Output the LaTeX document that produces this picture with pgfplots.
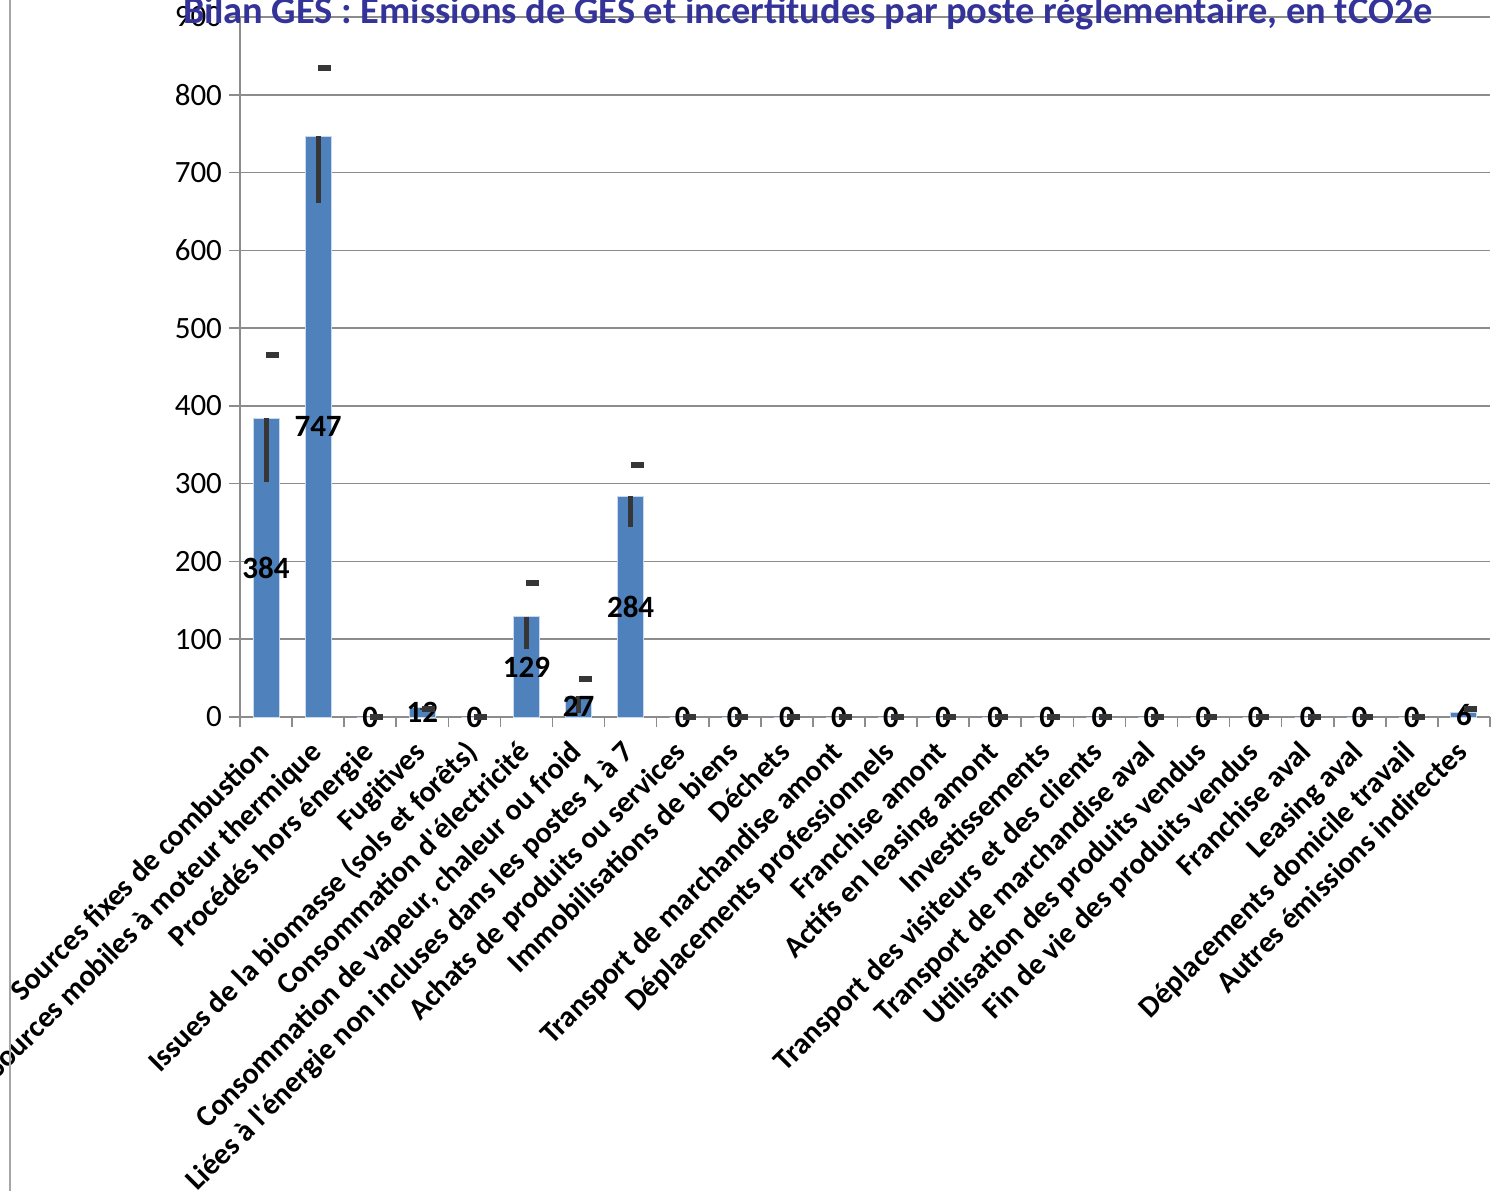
\documentclass[border=0pt]{standalone}
\usepackage{pgfplots}
\pgfplotsset{compat=1.18}
\usepackage{pgfplotstable}
\usepackage{fontspec}
\setmainfont{Carlito}
\usetikzlibrary{calc}
\definecolor{barblue}{HTML}{4F81BD}
\definecolor{baredge}{HTML}{C9D8EC}
\definecolor{errgray}{HTML}{363636}
\definecolor{titleblue}{HTML}{333399}
\definecolor{axisgray}{HTML}{8C8C8C}
\definecolor{framegray}{HTML}{A6A6A6}

\pgfplotstableread{
i v em up
0 384 82 466
1 747 86 835
2 0 0 0
3 12 3 10
4 0 0 0
5 129 42 172
6 27 22 49
7 284 40 324
8 0 0 0
9 0 0 0
10 0 0 0
11 0 0 0
12 0 0 0
13 0 0 0
14 0 0 0
15 0 0 0
16 0 0 0
17 0 0 0
18 0 0 0
19 0 0 0
20 0 0 0
21 0 0 0
22 0 0 0
23 6 3 10
}\data

\begin{document}
\begin{tikzpicture}
\begin{axis}[
  name=ax, at={(0,0)}, anchor=south west,
  scale only axis, width=625pt, height=350pt,
  xmin=-0.5, xmax=23.5, ymin=0, ymax=900,
  ytick={0,100,...,900},
  xtick={0,1,...,23},
  minor xtick={-0.5,0.5,...,23.5},
  xticklabels={
    Sources fixes de combustion,
    Sources mobiles à moteur thermique,
    Procédés hors énergie,
    Fugitives,
    Issues de la biomasse (sols et forêts),
    Consommation d\textquotesingle électricité,
    {Consommation de vapeur, chaleur ou froid},
    Liées à l\textquotesingle énergie non incluses dans les postes 1 à 7,
    Achats de produits ou services,
    Immobilisations de biens,
    Déchets,
    Transport de marchandise amont,
    Déplacements professionnels,
    Franchise amont,
    Actifs en leasing amont,
    Investissements,
    Transport des visiteurs et des clients,
    Transport de marchandise aval,
    Utilisation des produits vendus,
    Fin de vie des produits vendus,
    Franchise aval,
    Leasing aval,
    Déplacements domicile travail,
    Autres émissions indirectes},
  axis x line*=bottom, axis y line*=left,
  axis line style={draw=axisgray, line width=0.8pt},
  ymajorgrids, major grid style={draw=axisgray, line width=0.8pt},
  tick align=outside,
  major tick length=5.5pt, minor tick length=5pt,
  major x tick style={draw=none},
  minor x tick style={draw=axisgray, line width=0.8pt},
  y tick style={draw=axisgray, line width=0.8pt},
  clip=false,
  /pgf/number format/assume math mode=true,
  yticklabel style={font=\fontsize{15.5}{18}\selectfont, text=black},
  xticklabel style={font=\bfseries\fontsize{15}{18}\selectfont, xshift=2.5pt, yshift=-13pt, rotate=45, anchor=base east, inner sep=0pt},
]
\addplot[ybar, bar width=13pt, fill=barblue, draw=baredge, line width=0.5pt,
  nodes near coords,
  visualization depends on=y \as \rawy,
  every node near coord/.append style={anchor=center, font=\bfseries\fontsize{15.5}{18}\selectfont, text=black,
     shift={(axis direction cs:0,-\rawy/2)}}]
  table[x=i, y=v]{\data};
\addplot[draw=none, mark=none, forget plot,
  error bars/.cd, y dir=minus, y explicit, error mark=none,
  error bar style={draw=errgray, line width=2.5pt}]
  table[x=i, y=v, y error minus=em]{\data};
\addplot[only marks, mark=-, mark size=3.25pt,
  mark options={draw=errgray, line width=3pt, xshift=3.25pt}]
  table[x=i, y=up]{\data};
\end{axis}
\node[anchor=base, font=\bfseries\fontsize{19.2}{22}\selectfont, text=titleblue, inner sep=0pt]
  at ($(ax.south west)+(284pt,347pt)$)
  {Bilan GES : Émissions de GES et incertitudes par poste réglementaire, en tCO2e};
\draw[framegray, line width=0.6pt] ($(ax.south west)+(-115pt,-237pt)$) -- ($(ax.south west)+(-115pt,358.5pt)$);
\pgfresetboundingbox
\path[use as bounding box] ($(ax.south west)+(-120pt,-237pt)$) rectangle ($(ax.south west)+(629pt,358.5pt)$);
\end{tikzpicture}
\end{document}
